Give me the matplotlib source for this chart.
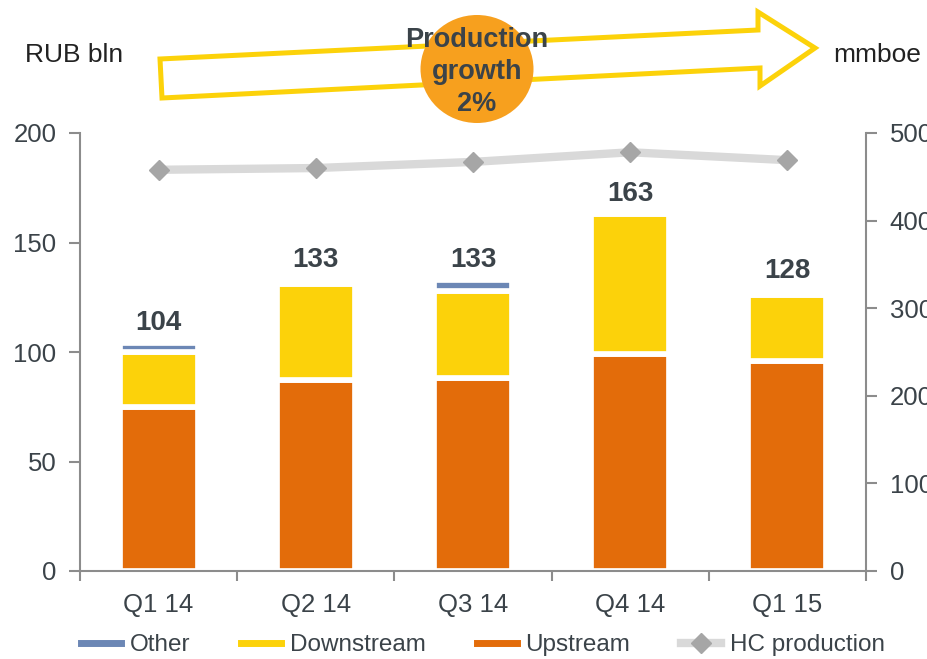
import matplotlib
matplotlib.use("Agg")
import matplotlib.pyplot as plt
from matplotlib.lines import Line2D
from matplotlib.patches import Polygon, Ellipse
import numpy as np

plt.rcParams["font.family"] = ["Liberation Sans", "DejaVu Sans"]

quarters = ["Q1 14", "Q2 14", "Q3 14", "Q4 14", "Q1 15"]
upstream = [75, 87, 88, 99, 96]
downstream = [25, 44, 40, 64, 30]
other = [4, 2, 5, 0, 2]
totals = [104, 133, 133, 163, 128]
hc_production = [458, 460, 467, 478, 469]  # mmboe, right axis

C_UP = "#E36C0A"
C_DOWN = "#FCD20A"
C_OTHER = "#6C87B5"
C_LINE = "#D9D9D9"
C_MARK = "#A6A6A6"
C_TEXT = "#3B4349"
C_AXIS = "#8C8C8C"

W, H = 928, 659
fig = plt.figure(figsize=(W / 100, H / 100), dpi=100)
ax = fig.add_axes([80 / W, 1 - 571 / H, 786 / W, 438 / H])
ax2 = ax.twinx()

x = np.arange(len(quarters))
# white edges give the gaps between the stacked segments
kw = dict(width=0.495, edgecolor="white", linewidth=4.1, zorder=3)
ax.bar(x, upstream, color=C_UP, **kw)
ax.bar(x, downstream, bottom=upstream, color=C_DOWN, **kw)
base2 = np.array(upstream) + np.array(downstream)
ax.bar(x, other, bottom=base2, color=C_OTHER, **kw)

tops = base2 + np.array(other)
for xi, top, tot in zip(x, tops, totals):
    ax.annotate(str(tot), (xi, top), xytext=(0, 5), textcoords="offset points",
                ha="center", va="bottom", fontsize=20, fontweight="bold", color=C_TEXT)

ax2.plot(x, hc_production, color=C_LINE, lw=6, marker="D", ms=10,
         mfc=C_MARK, mec=C_MARK, zorder=4, solid_capstyle="butt")

ax.set_xlim(-0.5, len(quarters) - 0.5)
ax.set_ylim(0, 200)
ax2.set_ylim(0, 500)
ax.set_yticks(range(0, 201, 50))
ax2.set_yticks(range(0, 501, 100))
ax.set_xticks(x)
ax.set_xticklabels(quarters)
ax.set_xticks(np.arange(-0.5, len(quarters)), minor=True)
ax.tick_params(axis="x", which="major", length=0, pad=16, labelsize=18.5, labelcolor=C_TEXT)
ax.tick_params(axis="x", which="minor", length=7, width=1.5, color=C_AXIS, direction="out")
ax.tick_params(axis="y", length=8, width=1.5, color=C_AXIS, pad=9, labelsize=18.5, labelcolor=C_TEXT)
ax2.tick_params(axis="y", length=8, width=1.5, color=C_AXIS, pad=9, labelsize=18.5, labelcolor=C_TEXT)

for a in (ax, ax2):
    a.spines["top"].set_visible(False)
    for s in ("left", "right", "bottom"):
        a.spines[s].set_color(C_AXIS)
        a.spines[s].set_linewidth(1.5)
        a.spines[s].set_zorder(5)
ax.spines["right"].set_visible(False)
ax2.spines["left"].set_visible(False)
ax2.spines["bottom"].set_visible(False)


def px(xp, yp):
    return (xp / W, 1 - yp / H)


fig.text(*px(25, 55), "RUB bln", fontsize=19, color="#222222", va="center", ha="left")
fig.text(*px(833, 55), "mmboe", fontsize=19, color="#222222", va="center", ha="left")

arrow_pts = [(160, 59), (758, 30), (758, 12), (815, 48), (760, 86), (760, 68), (162, 98)]
fig.add_artist(Polygon([px(*p) for p in arrow_pts], closed=True, fill=False,
                       edgecolor=C_DOWN, linewidth=3.6, transform=fig.transFigure))
fig.add_artist(Ellipse(px(477, 69), 113 / W, 108 / H, facecolor="#F7A01E",
                       edgecolor="none", transform=fig.transFigure))
fig.text(*px(477, 72), "Production\ngrowth\n2%", fontsize=19.5, fontweight="bold",
         color=C_TEXT, ha="center", va="center", linespacing=1.3)

handles = [
    Line2D([], [], color=C_OTHER, lw=5),
    Line2D([], [], color=C_DOWN, lw=5),
    Line2D([], [], color=C_UP, lw=5),
    Line2D([], [], color=C_LINE, lw=6, marker="D", ms=10, mfc=C_MARK, mec=C_MARK),
]
fig.legend(handles, ["Other", "Downstream", "Upstream", "HC production"],
           loc="center", bbox_to_anchor=(483 / W, 1 - 645 / H), ncol=4, frameon=False,
           fontsize=17.5, labelcolor=C_TEXT, handlelength=1.65, handletextpad=0.35,
           columnspacing=2.1)

fig.savefig("out.png", dpi=100)
